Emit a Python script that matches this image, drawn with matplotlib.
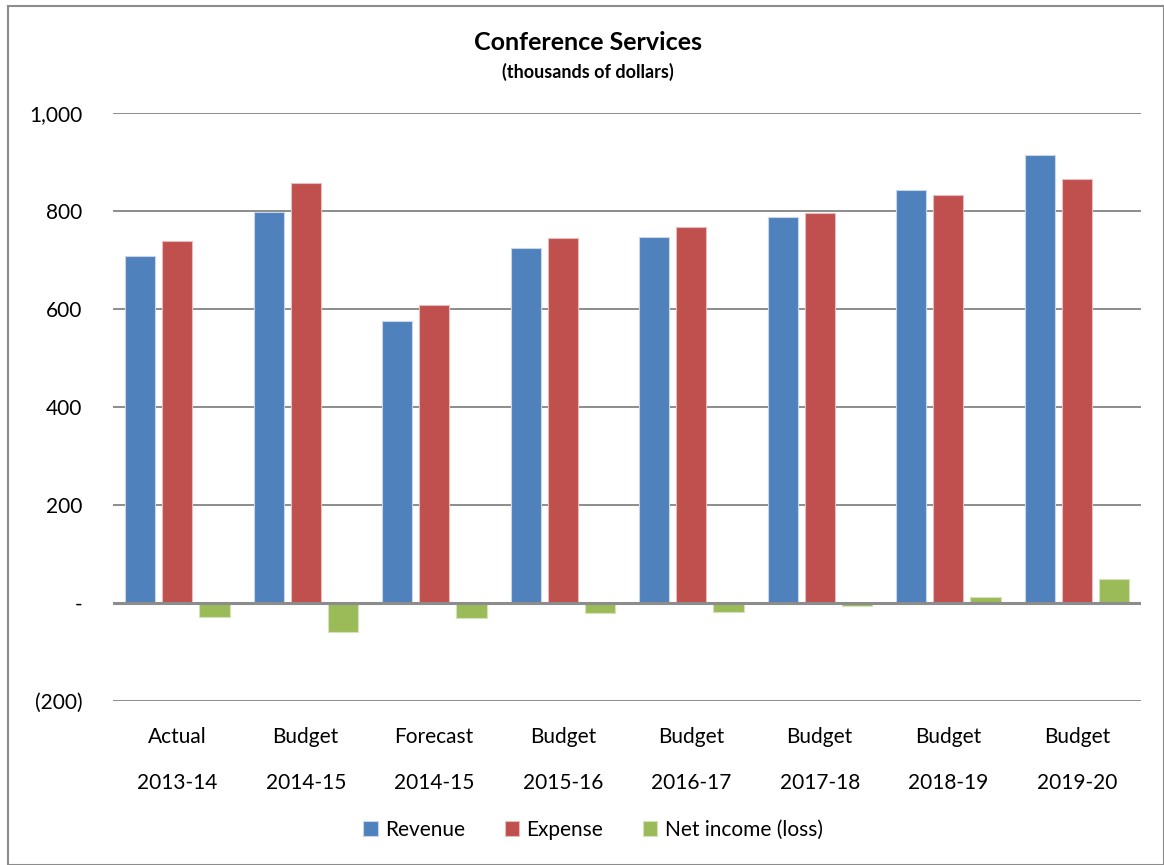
import numpy as np
import matplotlib.pyplot as plt
from matplotlib.patches import Rectangle
from matplotlib.ticker import FuncFormatter

plt.rcParams['font.family'] = ['Lato', 'DejaVu Sans']

kinds = ['Actual', 'Budget', 'Forecast', 'Budget', 'Budget', 'Budget', 'Budget', 'Budget']
years = ['2013-14', '2014-15', '2014-15', '2015-16', '2016-17', '2017-18', '2018-19', '2019-20']
revenue = [709, 799, 576, 724, 747, 788, 843, 915]
expense = [739, 858, 608, 745, 767, 797, 833, 866]
net_income = [-30, -59, -31, -20, -18, -7, 12, 49]

fig = plt.figure(figsize=(11.64, 8.65), dpi=100)
fig.patches.append(Rectangle((8 / 1164, 0), 1 - 8 / 1164, 1 - 6 / 865, transform=fig.transFigure,
                             fill=False, edgecolor='#8c8c8c', linewidth=1.5))
ax = fig.add_axes([113 / 1164, 1 - 700.7 / 865, 1028 / 1164, (700.7 - 113.4) / 865])

x = np.arange(len(years))
w = 0.235
ax.bar(x - 0.287, revenue, w, color='#4F81BD', edgecolor='#c9d6ea', linewidth=0.8, label='Revenue', zorder=3)
ax.bar(x, expense, w, color='#C0504D', edgecolor='#e7bdbc', linewidth=0.8, label='Expense', zorder=3)
ax.bar(x + 0.29, net_income, w, color='#9BBB59', edgecolor='#d3e2b9', linewidth=0.8,
       label='Net income (loss)', zorder=3)

ax.set_xlim(-0.5, len(years) - 0.5)
ax.set_ylim(-200, 1000)
ax.set_yticks(range(-200, 1001, 200))

def fmt(v, pos):
    if v == 0:
        return '-'
    if v < 0:
        return '({:,.0f})'.format(-v)
    return '{:,.0f}'.format(v)

ax.yaxis.set_major_formatter(FuncFormatter(fmt))
ax.set_xticks(x)
ax.set_xticklabels([k + '\n' + y for k, y in zip(kinds, years)], linespacing=2.63)
ax.tick_params(axis='both', length=0, labelsize=15, colors='black')
ax.tick_params(axis='y', pad=22)
ax.tick_params(axis='x', pad=19)

ax.grid(axis='y', color='#8c8c8c', linewidth=1.4, zorder=0)
ax.axhline(0, color='#8c8c8c', linewidth=2.2, zorder=4)
for s in ax.spines.values():
    s.set_visible(False)

fig.text(588 / 1164, 1 - 43 / 865, 'Conference Services', ha='center', va='center',
         fontsize=18, fontweight='bold')
fig.text(588 / 1164, 1 - 72 / 865, '(thousands of dollars)', ha='center', va='center',
         fontsize=13, fontweight='bold')

fig.legend(loc='center', bbox_to_anchor=(593 / 1164, 1 - 830 / 865), ncol=3, frameon=False,
           fontsize=15, handlelength=0.7, handleheight=0.7, handletextpad=0.35, columnspacing=1.9)

fig.savefig('out.png', dpi=100)
